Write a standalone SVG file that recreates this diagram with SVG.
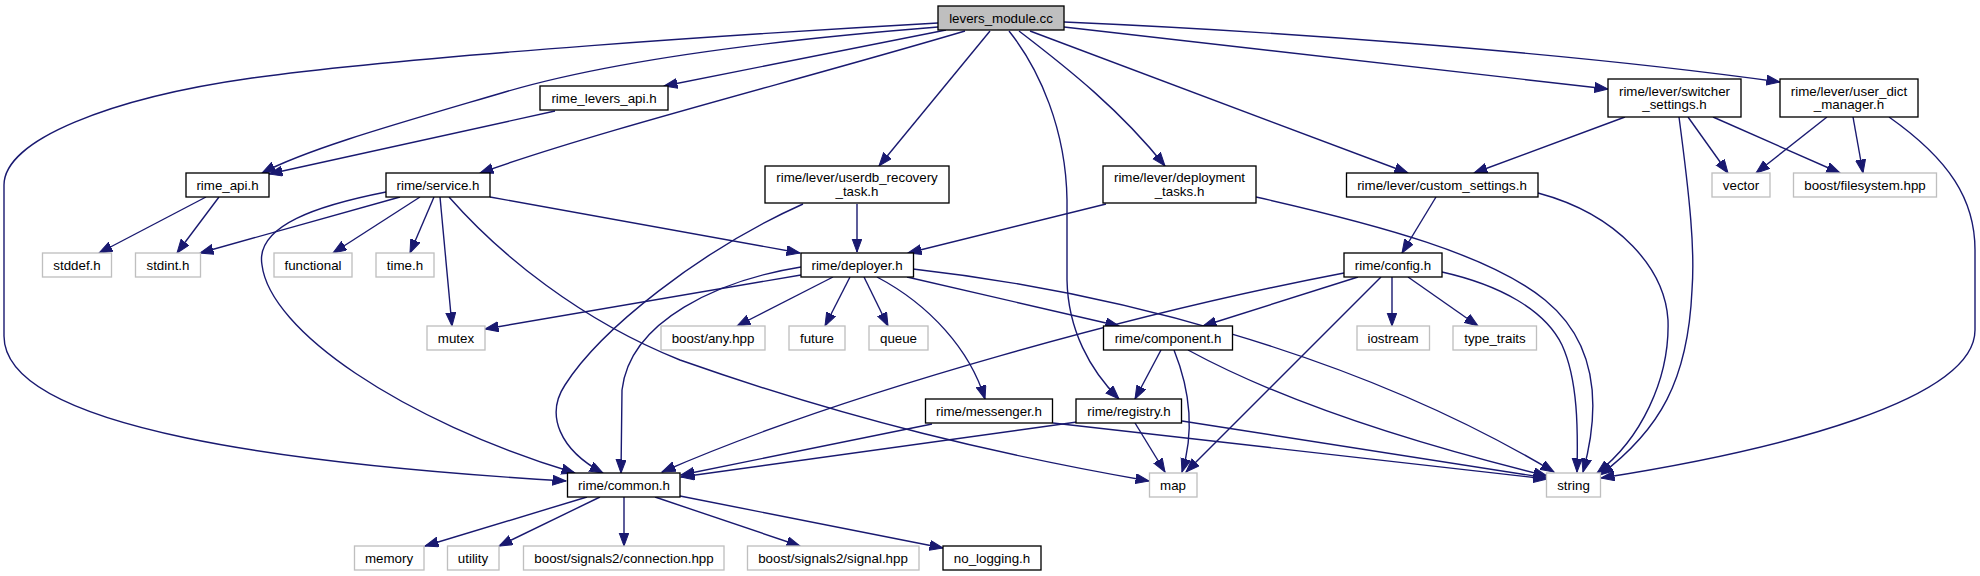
<svg xmlns="http://www.w3.org/2000/svg" width="1980" height="576" viewBox="0 0 1980 576">
<style>
text{font-family:"Liberation Sans",Arial,sans-serif;font-size:13.33px;fill:#000;text-anchor:middle}
.n rect{fill:#fff;stroke:#000;stroke-width:1.33}
.g rect{fill:#fff;stroke:#bfbfbf;stroke-width:1.33}
.r rect{fill:#bfbfbf;stroke:#000;stroke-width:1.33}
#edges path{fill:none;stroke:#191970;stroke-width:1.4;marker-end:url(#a)}
</style>
<defs>
<marker id="a" markerUnits="userSpaceOnUse" markerWidth="16" markerHeight="12" refX="13.5" refY="5.2" orient="auto">
<path d="M0,0.2 L13.5,5.2 L0,10.2 z" fill="#191970" stroke="#191970" stroke-width="1"/>
</marker>
</defs>
<rect width="1980" height="576" fill="#fff"/>
<g id="edges">
<path d="M938,23 C760,33 420,55 252,78 C110,98 4,140 4,185 L4,336 C4,430 300,465 566,481"/>
<path d="M938,27 C800,38 620,58 505,92 C400,123 310,148 262,173"/>
<path d="M946,30 L664,86"/>
<path d="M965,31 C800,80 600,130 480,173"/>
<path d="M990,31 L879,166"/>
<path d="M1009,31 C1040,70 1066,130 1067,200 L1067,280 C1068,330 1090,370 1119,399"/>
<path d="M1019,31 C1070,70 1120,110 1165,166"/>
<path d="M1030,31 L1408,173"/>
<path d="M1064,27 L1608,89"/>
<path d="M1064,22 C1250,30 1550,50 1780,82"/>
<path d="M555,111 L269,174"/>
<path d="M206,197 L99,253"/>
<path d="M219,197 L177,253"/>
<path d="M400,197 L200,253"/>
<path d="M420,197 L333,253"/>
<path d="M434,197 L410,253"/>
<path d="M440,197 L452,326"/>
<path d="M449,197 C500,255 580,320 680,360 C850,420 1000,455 1149,481"/>
<path d="M386,192 C320,205 255,225 262,265 C270,330 400,420 575,473"/>
<path d="M490,197 L800,253"/>
<path d="M857,204 L857,252"/>
<path d="M803,204 C700,250 600,330 565,385 C545,415 560,450 603,473"/>
<path d="M1106,204 L908,253"/>
<path d="M1256,197 C1380,225 1490,255 1545,300 C1600,345 1600,410 1583,472"/>
<path d="M801,267 C720,280 630,320 622,390 L621,473"/>
<path d="M801,275 L485,329"/>
<path d="M833,277 L737,326"/>
<path d="M850,277 L825,326"/>
<path d="M864,277 L888,326"/>
<path d="M877,277 C930,305 970,350 985,399"/>
<path d="M907,277 L1119,326"/>
<path d="M913,269 C1100,290 1350,350 1554,472"/>
<path d="M1436,197 L1402,253"/>
<path d="M1538,193 C1620,215 1665,270 1668,320 C1670,380 1640,440 1597,473"/>
<path d="M1625,117 L1474,173"/>
<path d="M1679,117 C1690,200 1695,250 1692,290 C1688,380 1660,430 1600,475"/>
<path d="M1688,117 L1728,173"/>
<path d="M1713,117 L1840,173"/>
<path d="M1827,117 L1756,173"/>
<path d="M1853,117 L1863,173"/>
<path d="M1889,117 C1950,160 1975,200 1975,250 L1975,330 C1975,400 1780,450 1601,478"/>
<path d="M1344,273 C1150,310 850,390 662,472"/>
<path d="M1358,277 L1203,326"/>
<path d="M1381,277 L1186,472"/>
<path d="M1392,277 L1392,326"/>
<path d="M1408,277 L1478,326"/>
<path d="M1442,272 C1500,285 1545,310 1562,345 C1578,380 1578,430 1577,472"/>
<path d="M1161,350 L1135,399"/>
<path d="M1174,350 C1190,390 1195,430 1182,472"/>
<path d="M1188,350 C1280,400 1400,440 1547,476"/>
<path d="M932,424 L681,475"/>
<path d="M1053,423 L1547,479"/>
<path d="M1077,422 L681,477"/>
<path d="M1135,423 L1165,472"/>
<path d="M1182,421 L1547,478"/>
<path d="M587,497 L425,546"/>
<path d="M600,497 L499,546"/>
<path d="M624,497 L624,546"/>
<path d="M655,497 L800,546"/>
<path d="M680,496 L943,548"/>
</g>
<g id="levers_module_cc" class="r"><rect x="938" y="6" width="126" height="24"/><text x="1001" y="22.5">levers_module.cc</text></g>
<g id="rime_levers_api_h" class="n"><rect x="540" y="86" width="128" height="24"/><text x="604" y="102.5">rime_levers_api.h</text></g>
<g id="switcher_settings_h" class="n"><rect x="1608" y="79" width="133" height="38"/><text x="1674.5" y="95.8">rime/lever/switcher</text><text x="1674.5" y="109.3">_settings.h</text></g>
<g id="user_dict_manager_h" class="n"><rect x="1780" y="79" width="138" height="38"/><text x="1849" y="95.8">rime/lever/user_dict</text><text x="1849" y="109.3">_manager.h</text></g>
<g id="rime_api_h" class="n"><rect x="186" y="173" width="83" height="24"/><text x="227.5" y="189.5">rime_api.h</text></g>
<g id="service_h" class="n"><rect x="386" y="173" width="104" height="24"/><text x="438" y="189.5">rime/service.h</text></g>
<g id="userdb_recovery_task_h" class="n"><rect x="765" y="166" width="184" height="37"/><text x="857" y="182.3">rime/lever/userdb_recovery</text><text x="857" y="195.8">_task.h</text></g>
<g id="deployment_tasks_h" class="n"><rect x="1103" y="166" width="153" height="37"/><text x="1179.5" y="182.3">rime/lever/deployment</text><text x="1179.5" y="195.8">_tasks.h</text></g>
<g id="custom_settings_h" class="n"><rect x="1346.5" y="173" width="191.5" height="24"/><text x="1442" y="189.5">rime/lever/custom_settings.h</text></g>
<g id="vector" class="g"><rect x="1712" y="173" width="58" height="24"/><text x="1741" y="189.5">vector</text></g>
<g id="boost_filesystem_hpp" class="g"><rect x="1793.5" y="173" width="143" height="24"/><text x="1865" y="189.5">boost/filesystem.hpp</text></g>
<g id="stddef_h" class="g"><rect x="42.5" y="253" width="69" height="24"/><text x="77" y="269.5">stddef.h</text></g>
<g id="stdint_h" class="g"><rect x="135.5" y="253" width="65" height="24"/><text x="168" y="269.5">stdint.h</text></g>
<g id="functional" class="g"><rect x="274" y="253" width="78" height="24"/><text x="313" y="269.5">functional</text></g>
<g id="time_h" class="g"><rect x="376" y="253" width="58" height="24"/><text x="405" y="269.5">time.h</text></g>
<g id="deployer_h" class="n"><rect x="801" y="253" width="112.5" height="24"/><text x="857" y="269.5">rime/deployer.h</text></g>
<g id="config_h" class="n"><rect x="1344" y="253" width="98" height="24"/><text x="1393" y="269.5">rime/config.h</text></g>
<g id="mutex" class="g"><rect x="427" y="326" width="58" height="24"/><text x="456" y="342.5">mutex</text></g>
<g id="boost_any_hpp" class="g"><rect x="661" y="326" width="104" height="24"/><text x="713" y="342.5">boost/any.hpp</text></g>
<g id="future" class="g"><rect x="789" y="326" width="56" height="24"/><text x="817" y="342.5">future</text></g>
<g id="queue" class="g"><rect x="869" y="326" width="59" height="24"/><text x="898.5" y="342.5">queue</text></g>
<g id="component_h" class="n"><rect x="1103.5" y="326" width="129" height="24"/><text x="1168" y="342.5">rime/component.h</text></g>
<g id="iostream" class="g"><rect x="1357" y="326" width="72.5" height="24"/><text x="1393" y="342.5">iostream</text></g>
<g id="type_traits" class="g"><rect x="1453" y="326" width="83.5" height="24"/><text x="1495" y="342.5">type_traits</text></g>
<g id="messenger_h" class="n"><rect x="925.5" y="399" width="127" height="24"/><text x="989" y="415.5">rime/messenger.h</text></g>
<g id="registry_h" class="n"><rect x="1076" y="399" width="105.5" height="24"/><text x="1129" y="415.5">rime/registry.h</text></g>
<g id="common_h" class="n"><rect x="567.5" y="473" width="112.5" height="24"/><text x="624" y="489.5">rime/common.h</text></g>
<g id="map" class="g"><rect x="1149.5" y="473" width="47.5" height="24"/><text x="1173" y="489.5">map</text></g>
<g id="string" class="g"><rect x="1546.5" y="473" width="54" height="24"/><text x="1573.5" y="489.5">string</text></g>
<g id="memory" class="g"><rect x="354.5" y="546" width="69.5" height="24"/><text x="389" y="562.5">memory</text></g>
<g id="utility" class="g"><rect x="447.5" y="546" width="51.5" height="24"/><text x="473" y="562.5">utility</text></g>
<g id="signals2_connection_hpp" class="g"><rect x="523.5" y="546" width="200.5" height="24"/><text x="624" y="562.5">boost/signals2/connection.hpp</text></g>
<g id="signals2_signal_hpp" class="g"><rect x="747.5" y="546" width="171.5" height="24"/><text x="833" y="562.5">boost/signals2/signal.hpp</text></g>
<g id="no_logging_h" class="n"><rect x="943" y="546" width="98" height="24"/><text x="992" y="562.5">no_logging.h</text></g>
</svg>
